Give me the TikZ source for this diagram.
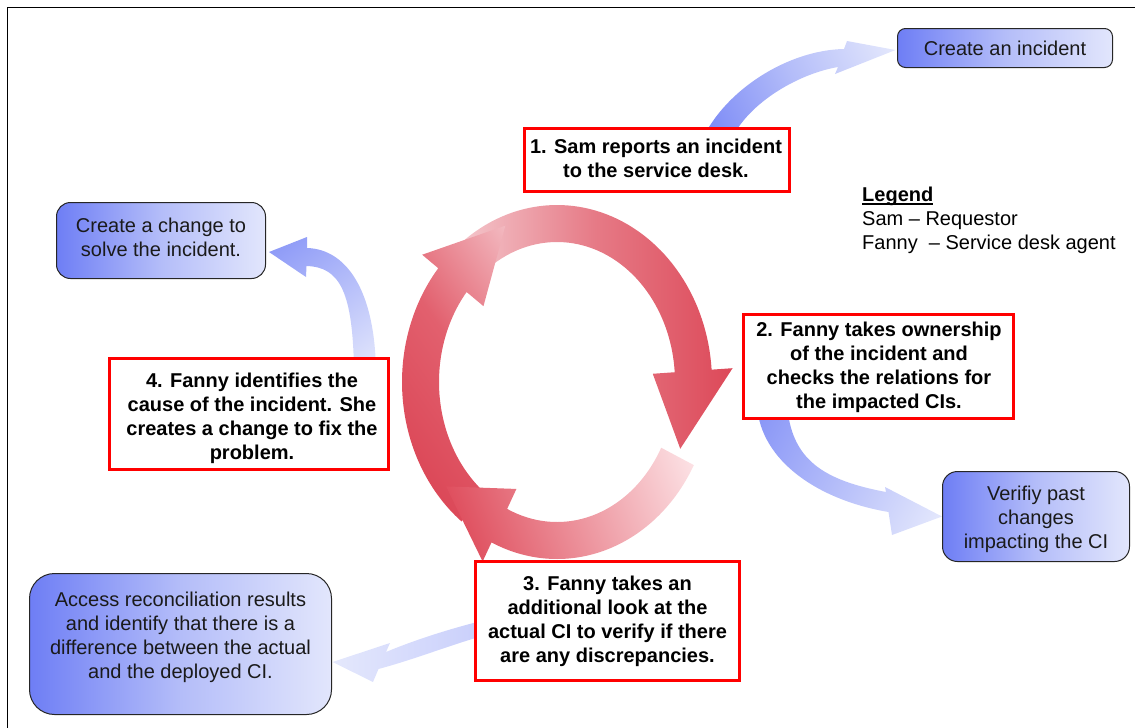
\documentclass[tikz,border=0pt]{standalone}
\usepackage{fontspec}
\setmainfont{Liberation Sans}
\usetikzlibrary{calc,backgrounds}

\definecolor{stepred}{HTML}{FF0000}
\definecolor{boxdark}{HTML}{6E7EF5}
\definecolor{boxmid}{HTML}{B4BDF9}
\definecolor{boxlight}{HTML}{E2E6FC}
\definecolor{boxline}{HTML}{262626}
\definecolor{textgray}{HTML}{1A1A1A}

% underline drawn close to the baseline
\newcommand{\ulword}[1]{\setbox0\hbox{#1}\rlap{\rule[-3pt]{\wd0}{1.6pt}}\box0}

\tikzset{
  txt/.style={font=\fontsize{20}{24}\selectfont, align=center, inner sep=0pt},
  steptext/.style={txt, font=\fontsize{20}{24}\selectfont\bfseries},
  stepbox/.style={draw=stepred, line width=3pt, fill=white, inner sep=0pt},
  infotext/.style={txt, text=textgray},
  infobox/.style={draw=boxline, line width=1pt, inner sep=0pt,
    left color=boxdark, right color=boxlight, middle color=boxmid},
  % one segment of the elliptical ring: tail angle, head base angle, tip angle, tip radius factor
  ringarrow/.style n args={4}{insert path={
    plot[domain=#1:#2, samples=60] ({557+155*cos(\x)},{382-177*sin(\x)})
    -- ({557+176*cos(#2)},{382-198*sin(#2)})
    -- ({557+#4*136*cos(#3)},{382-#4*158*sin(#3)})
    -- ({557+96*cos(#2)},{382-118*sin(#2)})
    -- plot[domain=#2:#1, samples=60] ({557+118*cos(\x)},{382-140*sin(\x)})
    -- cycle}},
}

\begin{document}
\begin{tikzpicture}[x=1pt, y=-1pt]
\useasboundingbox (0,0) rectangle (1135,728);

% ---------- outcome boxes ----------
\node[infobox, rounded corners=8pt, minimum width=215pt, minimum height=39pt]
  (incident) at (1005,48) {};
\node[infotext] (incidenttext) at (1005,51) {\strut Create an incident};
\node[infobox, rounded corners=14pt, minimum width=209pt, minimum height=76pt]
  (change) at (161,240.5) {};
\node[infotext] (changetext) at (161,239.5) {\strut Create a change to\\solve the incident.\strut};
\node[infobox, rounded corners=15pt, minimum width=187pt, minimum height=90pt]
  (verify) at (1036,516.5) {};
\node[infotext] (verifytext) at (1036,519.5) {\strut Verifiy past\\changes\\impacting the CI\strut};
\node[infobox, rounded corners=25pt, minimum width=302pt, minimum height=141pt]
  (access) at (180.5,644) {};
\node[infotext] (accesstext) at (180.5,638)
  {\strut Access reconciliation results\\and identify that there is a\\difference between the actual\\and the deployed CI.\strut};

% ---------- process steps ----------
\node[stepbox, minimum width=265pt, minimum height=63pt] (sam) at (657,160) {};
\node[steptext] (samtext) at (656,161)
  {\strut 1. Sam reports an incident\\to the service desk.\strut};
\node[stepbox, minimum width=270pt, minimum height=104pt] (own) at (878.5,366.5) {};
\node[steptext] (owntext) at (879,368)
  {\strut 2. Fanny takes ownership\\of the incident and\\checks the relations for\\the impacted CIs.\strut};
\node[stepbox, minimum width=264pt, minimum height=119pt] (look) at (607.5,621) {};
\node[steptext] (looktext) at (607.5,621.5)
  {\strut 3. Fanny takes an\\additional look at the\\actual CI to verify if there\\are any discrepancies.\strut};
\node[stepbox, minimum width=279pt, minimum height=111pt] (cause) at (249,414) {};
\node[steptext] (causetext) at (252,419)
  {\strut 4. Fanny identifies the\\cause of the incident. She\\creates a change to fix the\\problem.\strut};

% ---------- legend ----------
\node[txt, align=left, anchor=west] (legend) at (862,221)
  {\strut\ulword{\bfseries Legend}\\Sam – Requestor\\Fanny~ – Service desk agent\strut};

\begin{pgfonlayer}{background}
% ---------- blue side arrows ----------
\begin{scope}
  \path[clip] (702,140) .. controls (725,90) and (788,50) .. (844,49)
    -- (847,41) -- ($(incident.west)+(-1.5,2)$) -- (835,74) -- (838,67)
    .. controls (797,74) and (744,105) .. (729,145) -- cycle;
  \shade[top color=boxlight, bottom color=boxdark!90!white, middle color=boxmid,
    shading angle=-65] (700,-8) rectangle (900,192);
\end{scope}
\begin{scope}
  \path[clip] (376,372) .. controls (375,288) and (345,249) .. (307,248)
    -- (307,237) -- ($(change.east)+(3,11.5)$) -- (306,277) -- (306.5,266)
    .. controls (340,267) and (353,292) .. (354,372) -- cycle;
  \shade[top color=boxlight, bottom color=boxdark!80!white,
    shading angle=-143.5] (242,225) rectangle (402,385);
\end{scope}
\begin{scope}
  \path[clip] (757,406) .. controls (761,461) and (818,500) .. (888.5,512)
    -- (892,535) -- (verify.west) -- (885,487) -- (886,492)
    .. controls (822,480) and (791,459) .. (787,404) -- cycle;
  \shade[top color=boxlight, bottom color=boxdark!80!white,
    shading angle=-117] (750,367) rectangle (950,567);
\end{scope}
\begin{scope}
  \path[clip] (498,617) .. controls (458,626) and (417,639) .. (386,652)
    -- (390,643) -- ($(access.east)+(0.5,18)$) -- (373,682) -- (378.5,669)
    .. controls (423,657) and (462,640) .. (502,631) -- cycle;
  \shade[top color=boxlight!90!white, bottom color=boxdark!40!white,
    shading angle=90] (328,565) rectangle (505,742);
\end{scope}

% ---------- red cycle ----------
\begin{scope}
  \path[clip, ringarrow={128}{4}{-25}{1}];
  \shade[top color={rgb,255:red,245;green,204;blue,209},
    bottom color={rgb,255:red,220;green,70;blue,86},
    middle color={rgb,255:red,230;green,122;blue,134},
    shading angle=90] (450,185) rectangle (740,475);
\end{scope}
\begin{scope}
  \path[clip, ringarrow={232}{140}{111}{1.06}];
  \shade[top color={rgb,255:red,250;green,224;blue,228},
    bottom color={rgb,255:red,216;green,58;blue,75},
    middle color={rgb,255:red,226;green,96;blue,110},
    shading angle=-55] (310,210) rectangle (630,530);
\end{scope}
\begin{scope}
  \path[clip, ringarrow={-28}{-115}{-141}{1.05}];
  \shade[top color={rgb,255:red,255;green,240;blue,242},
    bottom color={rgb,255:red,219;green,58;blue,75},
    shading angle=-70] (425,355) rectangle (725,655);
\end{scope}
\end{pgfonlayer}

% ---------- frame ----------
\draw[line width=1pt] (7,740) -- (7,7) -- (1145,7);
\end{tikzpicture}
\end{document}
